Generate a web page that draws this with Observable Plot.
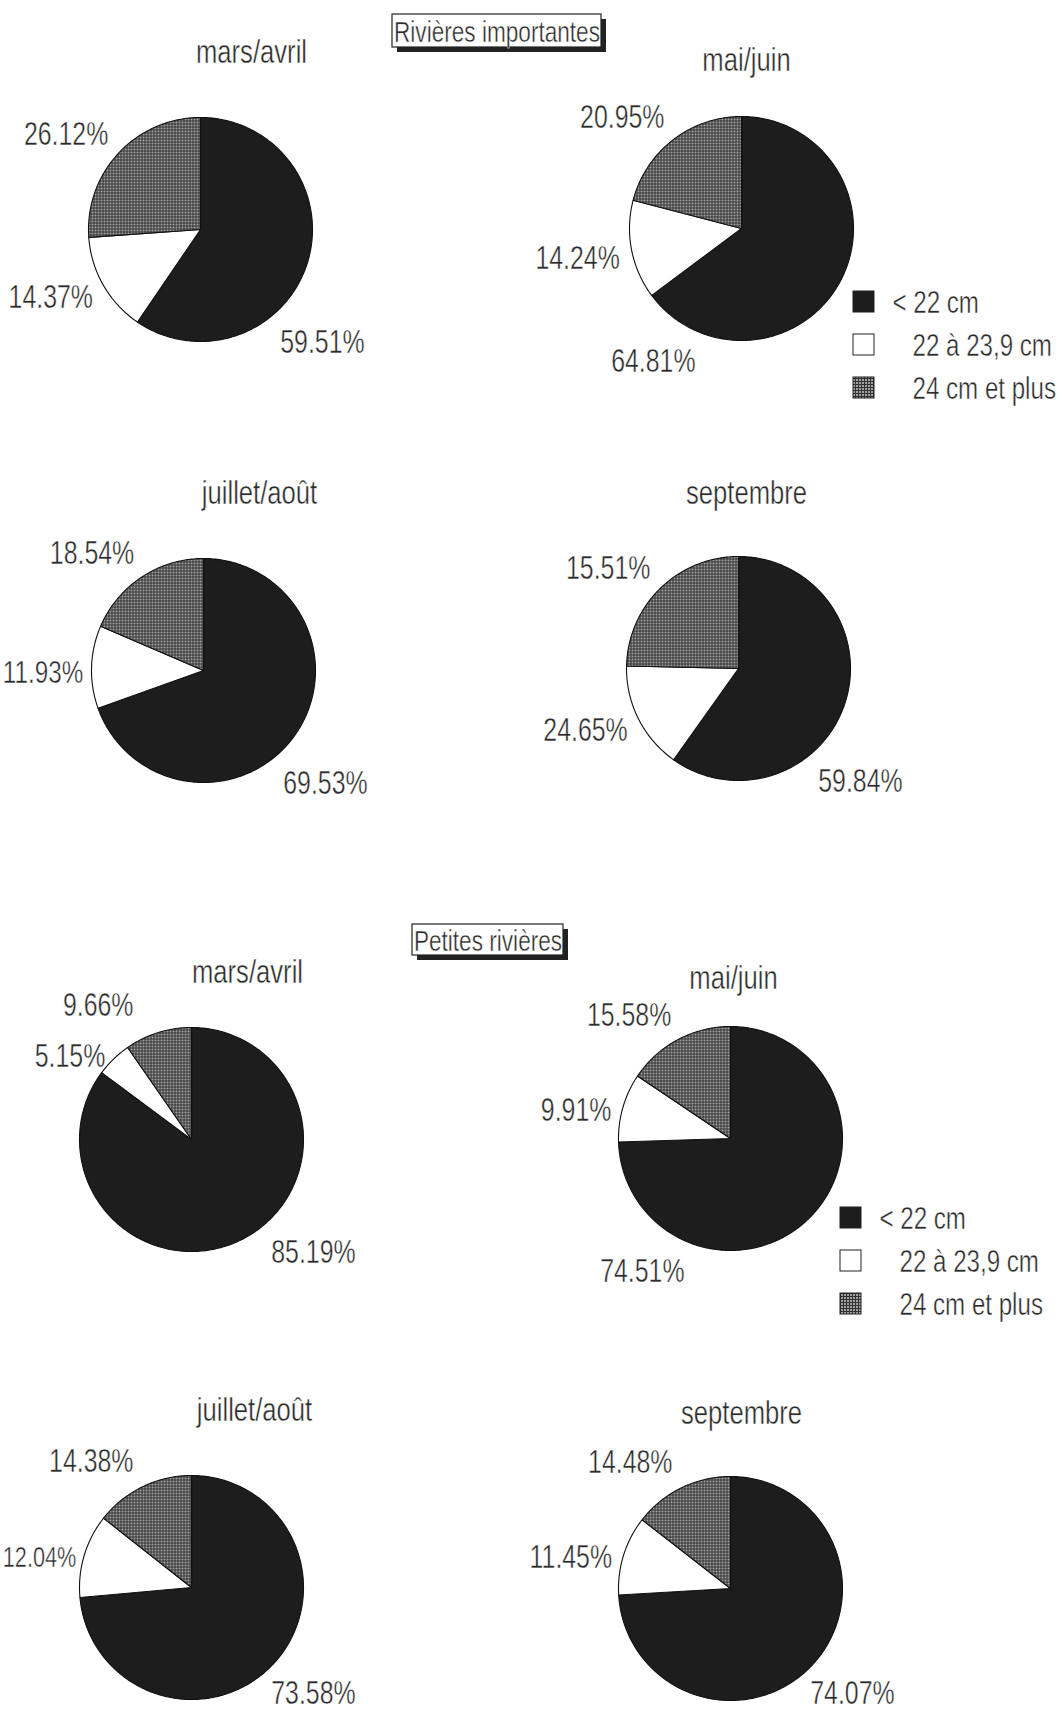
<!DOCTYPE html>
<html><head><meta charset="utf-8">
<script src="https://cdn.jsdelivr.net/npm/d3@7"></script>
<script src="https://cdn.jsdelivr.net/npm/@observablehq/plot@0.6"></script>
<style>html,body{margin:0;padding:0;background:#fff;}</style>
</head><body><div id="chart"></div>
<script>
// ---------- data ----------
const sections = ["Rivières importantes", "Petites rivières"];
const periods = ["mars/avril", "mai/juin", "juillet/août", "septembre"];
const classes = ["< 22 cm", "22 à 23,9 cm", "24 cm et plus"];
// slice values [< 22 cm, 22 à 23,9 cm, 24 cm et plus] per period
const importantes = [[59.51, 14.37, 26.12], [64.81, 14.24, 20.95], [69.53, 11.93, 18.54], [59.84, 15.51, 24.65]];
const petites = [[85.19, 5.15, 9.66], [74.51, 9.91, 15.58], [73.58, 12.04, 14.38], [74.07, 11.45, 14.48]];
// labels as printed beside each slice (the source prints the two small septembre labels swapped)
const importantesLabels = [["59.51%", "14.37%", "26.12%"], ["64.81%", "14.24%", "20.95%"], ["69.53%", "11.93%", "18.54%"], ["59.84%", "24.65%", "15.51%"]];
const petitesLabels = [["85.19%", "5.15%", "9.66%"], ["74.51%", "9.91%", "15.58%"], ["73.58%", "12.04%", "14.38%"], ["74.07%", "11.45%", "14.48%"]];

// ---------- layout (page geometry only) ----------
const W = 1062, H = 1714, R = 112;
const layout = [
  {box: [392, 14, 601, 47], legend: {x: 853, y: 302, tx: 892}, pies: [
    {cx: 200, cy: 229, tx: 251, ty: 52}, {cx: 741, cy: 228, tx: 746, ty: 60, legendSide: true},
    {cx: 203, cy: 670, tx: 259, ty: 493}, {cx: 738, cy: 668, tx: 746, ty: 493}]},
  {box: [412, 924, 563, 955], legend: {x: 840, y: 1218, tx: 879}, pies: [
    {cx: 191, cy: 1139, tx: 247, ty: 972}, {cx: 730, cy: 1138, tx: 733, ty: 978, legendSide: true},
    {cx: 191, cy: 1587, tx: 254, ty: 1410}, {cx: 730, cy: 1588, tx: 741, ty: 1413}]}
];

const FONT = "'Liberation Sans', Arimo, sans-serif";
const SQUEEZE = 0.754; // condensed look of the source lettering
const deg = Math.PI / 180;

const slicePts = [], sliceLabels = [], titles = [], boxes = [], legendRows = [];
sections.forEach((s, si) => {
  const L = layout[si];
  const vals = si === 0 ? importantes : petites;
  const labs = si === 0 ? importantesLabels : petitesLabels;
  boxes.push({name: s, x1: L.box[0], y1: L.box[1], x2: L.box[2], y2: L.box[3]});
  classes.forEach((c, ci) => legendRows.push({cls: c, x: L.legend.x, y: L.legend.y + ci * 43, tx: L.legend.tx + (ci === 0 ? 0 : 20)}));
  vals.forEach((v, pi) => {
    const p = L.pies[pi];
    titles.push({name: periods[pi], x: p.tx, y: p.ty});
    const arcs = d3.pie().sort(null)(v);
    arcs.forEach((a, ci) => {
      const key = `${si}-${pi}-${ci}`, cls = classes[ci];
      slicePts.push({key, cls, x: p.cx, y: p.cy});
      const n = Math.max(2, Math.ceil((a.endAngle - a.startAngle) / deg));
      for (let k = 0; k <= n; k++) {
        const t = a.startAngle + (a.endAngle - a.startAngle) * k / n;
        slicePts.push({key, cls, x: p.cx + R * Math.sin(t), y: p.cy - R * Math.cos(t)});
      }
      slicePts.push({key, cls, x: p.cx, y: p.cy});
      // label placement
      const mid = (a.startAngle + a.endAngle) / 2;
      let x, y, anchor;
      if (ci === 0 && p.legendSide) {
        const g = 216 * deg, d = R + 38;
        x = p.cx + d * Math.sin(g); y = p.cy - (d + 14) * Math.cos(g); anchor = "middle";
      } else if (ci === 0) {
        const g = 144.7 * deg, d = R + 26;
        x = p.cx + d * Math.sin(g); y = Math.min(p.cy - d * Math.cos(g), H - 21); anchor = "start";
      } else if (ci === 1) {
        const d = R + 12;
        x = p.cx + d * Math.sin(mid); y = p.cy - d * Math.cos(mid) + 6; anchor = "end";
      } else {
        const d = R + 14;
        x = p.cx + Math.min(d * Math.sin(mid), -58); y = p.cy - (d + 14) * Math.cos(mid); anchor = "end";
      }
      sliceLabels.push({text: labs[pi][ci], anchor, x, y});
    });
  });
});

const textStyle = {fontFamily: FONT, fill: "#2b2b2b", stroke: "#fff", strokeWidth: 0.45, paintOrder: "normal"};
const plot = Plot.plot({
  width: W, height: H,
  margin: 0,
  x: {domain: [0, W], range: [0, W], axis: null},
  y: {domain: [0, H], range: [0, H], axis: null},
  color: {type: "ordinal", domain: classes, range: ["#1d1d1d", "#ffffff", "url(#hatch)"]},
  style: {background: "#fff", fontFamily: FONT},
  marks: [
    // pies
    Plot.line(slicePts, {x: "x", y: "y", z: "key", fill: "cls", stroke: "#111", strokeWidth: 1.1, strokeLinejoin: "round"}),
    // slice labels
    ...["start", "middle", "end"].map(an => Plot.text(sliceLabels.filter(d => d.anchor === an), {x: "x", y: "y", text: "text", textAnchor: an, fontSize: 33, ...textStyle})),
    // period titles
    Plot.text(titles, {x: "x", y: "y", text: "name", fontSize: 34, ...textStyle}),
    // section title boxes with shadow
    Plot.rect(boxes, {x1: d => d.x1 + 5, x2: d => d.x2 + 5, y1: d => d.y1 + 5, y2: d => d.y2 + 5, fill: "#222"}),
    Plot.rect(boxes, {x1: "x1", x2: "x2", y1: "y1", y2: "y2", fill: "#fff", stroke: "#222", strokeWidth: 1.2}),
    Plot.text(boxes, {x: d => (d.x1 + d.x2) / 2, y: d => (d.y1 + d.y2) / 2 + 1, text: "name", fontSize: 30, ...textStyle}),
    // legends
    Plot.rect(legendRows, {x1: "x", x2: d => d.x + 21, y1: d => d.y - 11, y2: d => d.y + 10, fill: "cls", stroke: "#222", strokeWidth: 1}),
    Plot.text(legendRows, {x: "tx", y: "y", text: "cls", textAnchor: "start", fontSize: 32, ...textStyle})
  ]
});

// hatch pattern
const defs = d3.select(plot).insert("defs", ":first-child");
const pat = defs.append("pattern").attr("id", "hatch").attr("patternUnits", "userSpaceOnUse").attr("width", 3).attr("height", 3);
pat.append("rect").attr("width", 3).attr("height", 3).attr("fill", "#333");
pat.append("rect").attr("x", 1.2).attr("y", 1.2).attr("width", 1.6).attr("height", 1.6).attr("fill", "#dcdcdc");

document.getElementById("chart").appendChild(plot);

// condense the lettering horizontally around each text's anchor
plot.querySelectorAll("text").forEach(t => {
  const tr = t.getAttribute("transform");
  if (tr && tr.includes("translate")) {
    t.setAttribute("transform", tr + ` scale(${SQUEEZE},1)`);
  } else {
    t.setAttribute("textLength", (t.getComputedTextLength() * SQUEEZE).toFixed(1));
    t.setAttribute("lengthAdjust", "spacingAndGlyphs");
  }
});
// keep every text inside the page: nudge right a little, shrink if still too wide
const box0 = plot.getBoundingClientRect();
plot.querySelectorAll("text").forEach(t => {
  const r = t.getBoundingClientRect();
  const left = r.left - box0.left, right = r.right - box0.left;
  if (left < 3) {
    const s = Math.min(1, (right + 4 - 3) / r.width);
    const fs = parseFloat(getComputedStyle(t).fontSize);
    t.setAttribute("font-size", (fs * s).toFixed(1));
    t.setAttribute("dx", 5);
  }
});
</script>
</body></html>
